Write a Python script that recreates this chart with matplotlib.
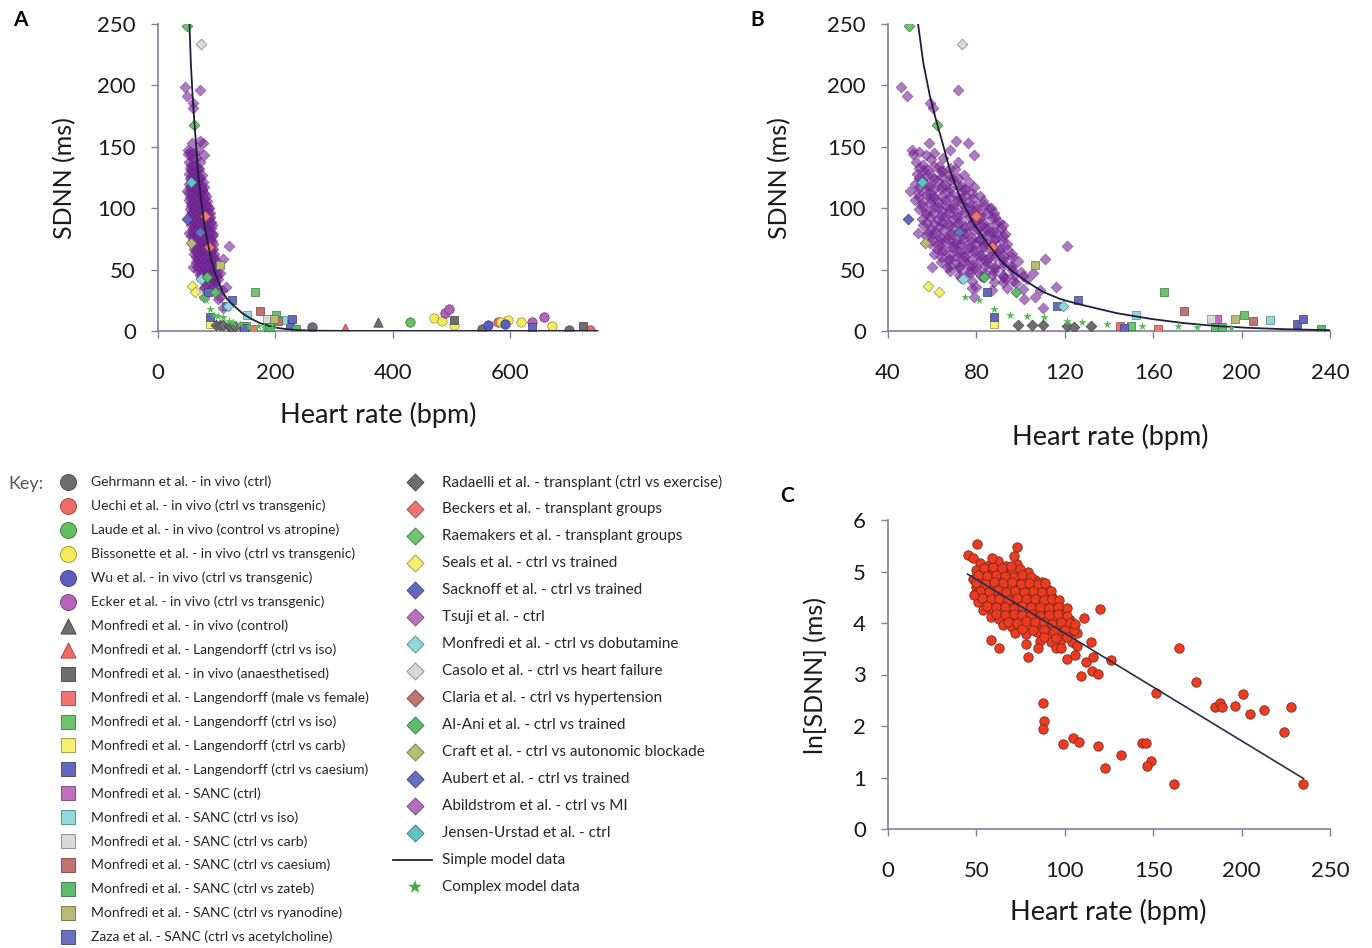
import numpy as np
import matplotlib.pyplot as plt

plt.rcParams['font.family'] = ['Lato', 'DejaVu Sans']

W, H = 1372, 948

# ---------------- key (legend) ----------------
left_labels = [
    "Gehrmann et al. - in vivo (ctrl)",
    "Uechi et al. - in vivo (ctrl vs transgenic)",
    "Laude et al. - in vivo (control vs atropine)",
    "Bissonette et al. - in vivo (ctrl vs transgenic)",
    "Wu et al. - in vivo (ctrl vs transgenic)",
    "Ecker et al. - in vivo (ctrl vs transgenic)",
    "Monfredi et al. - in vivo (control)",
    "Monfredi et al. - Langendorff (ctrl vs iso)",
    "Monfredi et al. - in vivo (anaesthetised)",
    "Monfredi et al. - Langendorff (male vs female)",
    "Monfredi et al. - Langendorff (ctrl vs iso) ",
    "Monfredi et al. - Langendorff (ctrl vs carb)",
    "Monfredi et al. - Langendorff (ctrl vs caesium)",
    "Monfredi et al. - SANC (ctrl)",
    "Monfredi et al. - SANC (ctrl vs iso)",
    "Monfredi et al. - SANC (ctrl vs carb)",
    "Monfredi et al. - SANC (ctrl vs caesium)",
    "Monfredi et al. - SANC (ctrl vs zateb)",
    "Monfredi et al. - SANC (ctrl vs ryanodine)",
    "Zaza et al. - SANC (ctrl vs acetylcholine)",
]
left_markers = ['o'] * 6 + ['^'] * 2 + ['s'] * 12
left_colors = ['#6e6e6e', '#f26b63', '#63c05e', '#f3ee58', '#5a5fbf', '#b463b8',
               '#6e6e6e', '#f26b63', '#6e6e6e', '#f07470', '#6cc46c', '#f5f06e',
               '#6468bc', '#c06ec0', '#90d8da', '#d9d9d9', '#c07472', '#5dbb70',
               '#b9ba74', '#6670be']

right_labels = [
    "Radaelli et al. - transplant (ctrl vs exercise)",
    "Beckers et al. - transplant groups",
    "Raemakers et al. - transplant groups",
    "Seals et al. - ctrl vs trained",
    "Sacknoff et al. - ctrl vs trained",
    "Tsuji et al. - ctrl",
    "Monfredi et al. - ctrl vs dobutamine",
    "Casolo et al. - ctrl vs heart failure",
    "Claria et al. - ctrl vs hypertension",
    "Al-Ani et al. - ctrl vs trained",
    "Craft et al. - ctrl vs autonomic blockade",
    "Aubert et al. - ctrl vs trained",
    "Abildstrom et al. - ctrl vs MI",
    "Jensen-Urstad et al. - ctrl",
    "Simple model data",
    "Complex model data",
]
right_markers = ['D'] * 14 + ['line', '*']
right_colors = ['#6e6e6e', '#f07470', '#6cc46c', '#f5f06e', '#6468bc', '#c06ec0',
                '#90d8da', '#d9d9d9', '#c07472', '#5dbb70', '#b9ba74', '#6670be',
                '#b46cc0', '#5fc4c4', '#1e1e3c', '#3db03d']

# ---------------- panel A / B data (HR bpm, SDNN ms) ----------------
gehrmann_hr = [262, 553, 700]
gehrmann_sdnn = [3.5, 1.5, 1.2]
uechi_hr = [579, 737]
uechi_sdnn = [7.5, 1.0]
laude_hr = [429]
laude_sdnn = [7.5]
bissonette_hr = [471, 484, 505, 585, 596, 619, 671]
bissonette_sdnn = [10.5, 8.5, 5.0, 7.5, 9.0, 7.5, 4.0]
wu_hr = [562, 592]
wu_sdnn = [5.0, 5.5]
ecker_hr = [490, 496, 638, 658]
ecker_sdnn = [15, 18, 7.5, 11]
mon_vivo_tri_hr = [375]
mon_vivo_tri_sdnn = [7]
mon_lang_tri_hr = [318]
mon_lang_tri_sdnn = [2.5]
mon_anaes_hr = [504, 724]
mon_anaes_sdnn = [9, 4]
mon_sex_hr = [145, 162]
mon_sex_sdnn = [4, 2]
mon_iso_hr = [165, 201, 150]
mon_iso_sdnn = [32, 13, 4]
mon_carb_hr = [88]
mon_carb_sdnn = [6]
mon_caes_hr = [88, 85, 147, 225, 228, 638]
mon_caes_sdnn = [11, 32, 2.5, 6, 10, 3]
sanc_ctrl_hr = [189]
sanc_ctrl_sdnn = [10]
sanc_iso_hr = [152, 213]
sanc_iso_sdnn = [13, 9]
sanc_carb_hr = [186]
sanc_carb_sdnn = [10]
sanc_caes_hr = [174, 205]
sanc_caes_sdnn = [16, 8]
sanc_zateb_hr = [236, 188, 191]
sanc_zateb_sdnn = [1.5, 3, 3]
sanc_ryan_hr = [197, 106.5]
sanc_ryan_sdnn = [10, 54]
zaza_hr = [116.5, 126]
zaza_sdnn = [20, 25]

radaelli_hr = [99, 105, 110, 121, 124, 132]
radaelli_sdnn = [5, 5, 5, 4, 3.5, 4]
beckers_hr = [80, 87]
beckers_sdnn = [94, 68]
raemakers_hr = [49.5, 62]
raemakers_sdnn = [248, 168]
seals_hr = [58, 63]
seals_sdnn = [37, 32]
sacknoff_hr = [49]
sacknoff_sdnn = [91]
dobut_hr = [74, 119]
dobut_sdnn = [42, 20]
casolo_hr = [73.5]
casolo_sdnn = [234]
alani_hr = [83.5, 98]
alani_sdnn = [44, 32]
craft_hr = [56.7]
craft_sdnn = [72]
aubert_hr = [72]
aubert_sdnn = [81]
jensen_hr = [55.4]
jensen_sdnn = [121]

abil_hr = [
    45.9, 48.6, 71.7, 59, 60.4, 58.5, 70.8, 76, 51, 51.5, 79, 71.7, 50, 53.6, 60, 66.7,
    78, 79, 92, 96.5, 105.6, 121, 111, 116, 109, 101.5, 110, 106.5, 54, 57, 61, 65, 68,
    52.5, 56, 59.5, 63,
    53, 56.5, 60, 64, 67.5, 70.5,
    52, 55.5, 59, 62.5, 66, 69.5, 73, 76.5,
    53.5, 57, 60.5, 64, 67.5, 71, 74.5, 78,
    52, 55.5, 59, 62.5, 66, 69.5, 73, 76.5, 80, 83,
    54, 57.5, 61, 64.5, 68, 71.5, 75, 78.5, 82, 85.5, 88,
    55.5, 59, 62.5, 66, 69.5, 73, 76.5, 80, 83.5, 87, 90,
    56, 59.5, 63, 66.5, 70, 73.5, 77, 80.5, 84, 87.5, 91,
    57, 60.5, 64, 67.5, 71, 74.5, 78, 81.5, 85, 88.5, 92,
    59, 62.5, 66, 69.5, 73, 76.5, 80, 83.5, 87, 90.5, 94,
    61, 64.5, 68, 71.5, 75, 78.5, 82, 85.5, 89, 92.5, 96,
    64, 67.5, 71, 74.5, 78, 81.5, 85, 88.5, 92, 95.5, 99,
    68, 72, 76, 80, 84, 88, 92, 96, 100,
    73, 78, 83, 88, 93, 98, 103,
    80, 87, 94, 101,
    54, 57.5, 61, 64.5, 68,
    54, 57.5, 61, 64.5, 68, 71.5, 74.5,
    54, 57.5, 61, 64.5, 68, 71.5, 75, 79,
    54, 57.5, 61, 64.5, 68, 71.5, 75, 78.5, 81.5,
    55.5, 59, 62.5, 66, 69.5, 73, 76.5, 80, 83.5, 86.5,
    57, 60.5, 64, 67.5, 71, 74.5, 78, 81.5, 85, 88.5,
    57.5, 61, 64.5, 68, 71.5, 75, 78.5, 82, 85.5, 89, 92,
    58, 61.5, 65, 68.5, 72, 75.5, 79, 82.5, 86, 89.5, 93,
    60, 63.5, 67, 70.5, 74, 77.5, 81, 84.5, 88, 91.5,
    62, 65.5, 69, 72.5, 76, 79.5, 83, 86.5, 90, 94,
    64, 67.5, 71, 74.5, 78, 81.5, 85, 88.5, 92, 96,
    68, 72, 76, 80, 84, 88, 92, 96,
    72, 77, 82, 87, 92, 97, 101,
]
abil_sdnn = [
    199, 191, 196, 186, 182, 153, 155, 153, 147, 144, 143, 138, 114, 80, 52, 52,
    35, 28, 40, 41, 47, 69, 59, 36, 33, 26, 19, 28, 146, 143, 145, 141, 147,
    138, 135, 140, 134,
    128, 131, 126, 130, 127, 132,
    120, 123, 118, 122, 119, 124, 118, 121,
    112, 115, 111, 116, 113, 110, 115, 112,
    107, 104, 108, 105, 107, 103, 108, 105, 102, 106,
    99, 97, 101, 98, 100, 96, 101, 98, 95, 100, 96,
    91, 93, 90, 94, 91, 89, 93, 90, 88, 92, 89,
    86, 83, 85, 87, 84, 82, 86, 83, 85, 81, 84,
    77, 79, 76, 78, 75, 79, 76, 74, 78, 75, 77,
    72, 70, 73, 69, 71, 68, 72, 69, 70, 67, 71,
    63, 65, 62, 64, 61, 65, 62, 60, 64, 61, 63,
    56, 58, 55, 57, 54, 58, 55, 52, 56, 53, 57,
    49, 51, 48, 50, 47, 49, 46, 50, 48,
    43, 41, 44, 40, 43, 39, 42,
    36, 33, 35, 34,
    133, 131, 134, 130, 133,
    125, 127, 124, 126, 123, 125, 127,
    117, 119, 116, 118, 116, 118, 116, 117,
    109, 111, 108, 110, 109, 107, 111, 108, 110,
    102, 104, 101, 103, 100, 104, 101, 99, 103, 100,
    95, 96, 94, 96, 93, 97, 94, 92, 96, 93,
    88, 87, 89, 86, 88, 85, 89, 86, 84, 88, 86,
    81, 80, 82, 79, 81, 80, 82, 79, 81, 80, 79,
    74, 73, 75, 72, 74, 73, 75, 72, 74, 73,
    67, 66, 68, 65, 67, 66, 68, 65, 66, 67,
    60, 59, 61, 60, 59, 61, 58, 60, 59, 60,
    53, 52, 54, 52, 53, 51, 53, 52,
    46, 47, 45, 46, 44, 46, 45,
]

complex_hr = [75, 81, 88, 95, 103, 110.6, 121, 128, 139, 155, 171, 180, 195]
complex_sdnn = [28, 25, 18, 13, 12, 11, 8, 7, 6, 4, 4, 3, 2.5]

simple_hr = [53.6, 56, 59, 62, 64.4, 68, 72.6, 78.5, 84.8, 90.7, 96, 103, 110, 118,
             126, 133, 143.6, 158.5, 173.5, 189, 204, 219, 238.6, 280, 350, 750]
simple_sdnn = [250, 218, 191, 170, 155, 131, 109, 88, 72, 58, 49, 40, 32, 26,
               22, 19, 14.5, 10, 6.5, 4, 2.5, 1.5, 0.7, 0.2, 0, 0]

# ---------------- panel C data (HR bpm, ln SDNN) ----------------
c_hr = [
    52, 57, 62, 67, 73,
    50, 55, 60, 65, 70, 75, 79,
    48, 53, 58, 63, 68, 73, 78, 83, 87,
    50, 55, 60, 65, 70, 75, 80, 85, 90,
    49, 54, 59, 64, 69, 74, 79, 84, 89, 93,
    51, 56, 61, 66, 71, 76, 81, 86, 91, 96,
    54, 59, 64, 69, 74, 79, 84, 89, 94, 99,
    58, 63, 68, 73, 78, 83, 88, 93, 98, 103,
    65, 70, 75, 80, 85, 90, 95, 100, 105,
    72, 78, 84, 90, 96, 102, 107,
    86, 92, 98, 104,
    54.5, 59.5, 64.5, 69.5, 74.5,
    51, 56, 61, 66, 71, 76, 81,
    50, 55, 60, 65, 70, 75, 80, 85, 89,
    52, 57, 62, 67, 72, 77, 82, 87, 92,
    53, 58, 63, 68, 73, 78, 83, 88, 93, 97,
    56, 61, 66, 71, 76, 81, 86, 91, 96, 101,
    61, 66, 71, 76, 81, 86, 91, 96, 101,
    68, 73, 78, 83, 88, 93, 98, 103,
    76, 82, 88, 94, 100, 105,
    88, 95, 101,
    50.3, 72.9, 45.2, 48, 58.8, 71.2, 48.6, 119.8, 110.7, 106, 58.2, 62.7, 77.9, 84.9,
    79.3, 115, 106.8, 95, 98, 101, 106, 111.8, 116, 126, 115.4, 119, 109, 164.4, 174,
    151.4, 201, 184.8, 188, 188.7, 196, 204.5, 212.4, 227.7, 223.7, 234.5, 87.6, 88.1,
    87.4, 98.8, 104.5, 108, 119, 122.6, 131.6, 143.5, 146, 148.9, 146.7, 162,
]
c_ln = [
    5.17, 5.12, 5.20, 5.10, 5.14,
    5.02, 4.97, 5.04, 4.98, 5.03, 4.96, 5.00,
    4.86, 4.83, 4.88, 4.84, 4.87, 4.82, 4.86, 4.83, 4.80,
    4.70, 4.72, 4.68, 4.71, 4.69, 4.72, 4.67, 4.70, 4.66,
    4.56, 4.53, 4.57, 4.54, 4.56, 4.52, 4.55, 4.53, 4.56, 4.50,
    4.41, 4.38, 4.42, 4.39, 4.41, 4.37, 4.40, 4.38, 4.41, 4.36,
    4.26, 4.23, 4.27, 4.24, 4.26, 4.22, 4.25, 4.23, 4.26, 4.21,
    4.11, 4.08, 4.12, 4.09, 4.10, 4.07, 4.11, 4.08, 4.10, 4.06,
    3.96, 3.93, 3.97, 3.94, 3.95, 3.92, 3.96, 3.93, 3.95,
    3.81, 3.78, 3.82, 3.79, 3.80, 3.77, 3.81,
    3.66, 3.63, 3.67, 3.64,
    5.07, 5.09, 5.06, 5.10, 5.05,
    4.93, 4.91, 4.94, 4.92, 4.90, 4.93, 4.89,
    4.78, 4.76, 4.79, 4.77, 4.80, 4.76, 4.78, 4.75, 4.77,
    4.63, 4.61, 4.64, 4.60, 4.62, 4.60, 4.63, 4.60, 4.62,
    4.48, 4.46, 4.47, 4.45, 4.48, 4.46, 4.47, 4.44, 4.46, 4.45,
    4.33, 4.31, 4.32, 4.30, 4.33, 4.31, 4.32, 4.29, 4.31, 4.30,
    4.17, 4.15, 4.18, 4.16, 4.17, 4.14, 4.16, 4.17, 4.14,
    4.02, 4.00, 4.03, 4.01, 4.02, 3.99, 4.01, 4.00,
    3.88, 3.86, 3.87, 3.85, 3.87, 3.86,
    3.73, 3.71, 3.72,
    5.53, 5.48, 5.32, 5.27, 5.26, 5.30, 4.54, 4.27, 4.10, 3.98, 3.67, 3.52, 3.59, 3.52,
    3.34, 3.63, 3.55, 3.52, 3.52, 3.30, 3.38, 3.25, 3.34, 3.28, 3.07, 3.01, 2.97, 3.51, 2.85,
    2.64, 2.62, 2.37, 2.45, 2.37, 2.39, 2.23, 2.31, 2.36, 1.88, 0.87, 2.45, 2.10,
    1.94, 1.65, 1.76, 1.69, 1.61, 1.18, 1.43, 1.67, 1.67, 1.32, 1.22, 0.87,
]
c_fit_hr = [45, 235]
c_fit_ln = [4.95, 0.98]

# ---------------- figure ----------------
fig = plt.figure(figsize=(W / 100, H / 100), dpi=100)
SPINE = '#80809a'


def px_axes(left, right, top, bottom):
    return fig.add_axes([left / W, 1 - bottom / H, (right - left) / W, (bottom - top) / H])


def style(ax):
    for s in ['top', 'right']:
        ax.spines[s].set_visible(False)
    for s in ['left', 'bottom']:
        ax.spines[s].set_color(SPINE)
        ax.spines[s].set_linewidth(1.2)
    ax.tick_params(direction='out', length=5, width=1, color=SPINE,
                   labelsize=16, labelcolor='#1a1a1a')
    ax.tick_params(axis='x', pad=18)
    ax.tick_params(axis='y', pad=11)


def darker(c, f=0.6):
    r, g, b = [int(c[i:i + 2], 16) for i in (1, 3, 5)]
    return '#%02x%02x%02x' % (int(r * f), int(g * f), int(b * f))


lut = {}
for lab, m, c in zip(left_labels, left_markers, left_colors):
    lut[lab] = (m, c)
for lab, m, c in zip(right_labels, right_markers, right_colors):
    lut[lab] = (m, c)

other_series = [
    (left_labels[0], gehrmann_hr, gehrmann_sdnn),
    (left_labels[1], uechi_hr, uechi_sdnn),
    (left_labels[2], laude_hr, laude_sdnn),
    (left_labels[3], bissonette_hr, bissonette_sdnn),
    (left_labels[4], wu_hr, wu_sdnn),
    (left_labels[5], ecker_hr, ecker_sdnn),
    (left_labels[6], mon_vivo_tri_hr, mon_vivo_tri_sdnn),
    (left_labels[7], mon_lang_tri_hr, mon_lang_tri_sdnn),
    (left_labels[8], mon_anaes_hr, mon_anaes_sdnn),
    (left_labels[9], mon_sex_hr, mon_sex_sdnn),
    (left_labels[10], mon_iso_hr, mon_iso_sdnn),
    (left_labels[11], mon_carb_hr, mon_carb_sdnn),
    (left_labels[12], mon_caes_hr, mon_caes_sdnn),
    (left_labels[13], sanc_ctrl_hr, sanc_ctrl_sdnn),
    (left_labels[14], sanc_iso_hr, sanc_iso_sdnn),
    (left_labels[15], sanc_carb_hr, sanc_carb_sdnn),
    (left_labels[16], sanc_caes_hr, sanc_caes_sdnn),
    (left_labels[17], sanc_zateb_hr, sanc_zateb_sdnn),
    (left_labels[18], sanc_ryan_hr, sanc_ryan_sdnn),
    (left_labels[19], zaza_hr, zaza_sdnn),
    (right_labels[0], radaelli_hr, radaelli_sdnn),
    (right_labels[1], beckers_hr, beckers_sdnn),
    (right_labels[2], raemakers_hr, raemakers_sdnn),
    (right_labels[3], seals_hr, seals_sdnn),
    (right_labels[4], sacknoff_hr, sacknoff_sdnn),
    (right_labels[6], dobut_hr, dobut_sdnn),
    (right_labels[7], casolo_hr, casolo_sdnn),
    (right_labels[9], alani_hr, alani_sdnn),
    (right_labels[10], craft_hr, craft_sdnn),
    (right_labels[11], aubert_hr, aubert_sdnn),
    (right_labels[13], jensen_hr, jensen_sdnn),
]

size = {'o': 46, 's': 34, '^': 46, 'D': 30}

axA = px_axes(158, 598, 24, 331)
axB = px_axes(888, 1330, 24, 331)
for ax in (axA, axB):
    ax.scatter(abil_hr, abil_sdnn, marker='D', s=32, color='#7a2a9a', alpha=0.62,
               edgecolors='#5e1e7e', linewidths=0.4, zorder=2)
    for lab, x, y in other_series:
        m, c = lut[lab]
        ax.scatter(x, y, marker=m, s=size[m], color=c, edgecolors=darker(c),
                   linewidths=0.5, zorder=3)
    ax.plot(simple_hr, simple_sdnn, color='#1e1e3c', lw=1.3, zorder=4)
    ax.scatter(complex_hr, complex_sdnn, marker='*', s=40, color='#4fc04f',
               linewidths=0, zorder=5)
    ax.set_ylim(0, 250)
    ax.set_yticks([0, 50, 100, 150, 200, 250])
    style(ax)

axA.set_xlim(0, 750)
axA.set_xticks([0, 200, 400, 600])
axB.set_xlim(40, 240)
axB.set_xticks([40, 80, 120, 160, 200, 240])

axC = px_axes(888, 1330, 520, 829)
axC.scatter(c_hr, c_ln, marker='o', s=46, color='#ee3b1f', edgecolors='#7a2a1e',
            linewidths=0.6, zorder=2)
axC.plot(c_fit_hr, c_fit_ln, color='#2b2b4b', lw=1.2, zorder=3)
axC.set_xlim(0, 250)
axC.set_ylim(0, 6)
axC.set_xticks([0, 50, 100, 150, 200, 250])
axC.set_yticks([0, 1, 2, 3, 4, 5, 6])
style(axC)


def ftext(x, y, s, **kw):
    fig.text(x / W, 1 - y / H, s, **kw)


lab_kw = dict(ha='center', va='center', color='#1a1a1a')
ftext(65, 178, "SDNN (ms)", fontsize=18, rotation=90, **lab_kw)
ftext(780, 178, "SDNN (ms)", fontsize=18, rotation=90, **lab_kw)
ftext(815, 675, "ln[SDNN] (ms)", fontsize=18, rotation=90, **lab_kw)
ftext(378, 415, "Heart rate (bpm)", fontsize=19.5, **lab_kw)
ftext(1110, 437, "Heart rate (bpm)", fontsize=19.5, **lab_kw)
ftext(1108, 912, "Heart rate (bpm)", fontsize=19.5, **lab_kw)
ftext(20, 20, "A", fontsize=15, fontweight='bold', ha='center', va='center')
ftext(757, 20, "B", fontsize=15, fontweight='bold', ha='center', va='center')
ftext(787, 496, "C", fontsize=15, fontweight='bold', ha='center', va='center')
ftext(8, 484, "Key:", fontsize=13, ha='left', va='center', color='#555555')

# key drawn in pixel space
key = fig.add_axes([0, 0, 1, 1])
key.set_xlim(0, W)
key.set_ylim(H, 0)
key.axis('off')
key_size = {'o': 133, 's': 100, '^': 120, 'D': 75, '*': 110}
for i, (lab, m, c) in enumerate(zip(left_labels, left_markers, left_colors)):
    y = 482 + i * 23.95
    key.scatter([68], [y], marker=m, s=key_size[m], color=c, edgecolors=darker(c), linewidths=0.6)
    key.text(91, y, lab.strip(), fontsize=10, va='center', ha='left', color='#262626')
for i, (lab, m, c) in enumerate(zip(right_labels, right_markers, right_colors)):
    y = 482 + i * 27.0
    if m == 'line':
        key.plot([393, 432], [y, y], color=c, lw=1.3)
    else:
        key.scatter([415], [y], marker=m, s=key_size[m], color=c,
                    edgecolors=darker(c) if m != '*' else 'none', linewidths=0.6)
    key.text(442, y, lab, fontsize=11, va='center', ha='left', color='#262626')

fig.savefig("out.png", dpi=100)
